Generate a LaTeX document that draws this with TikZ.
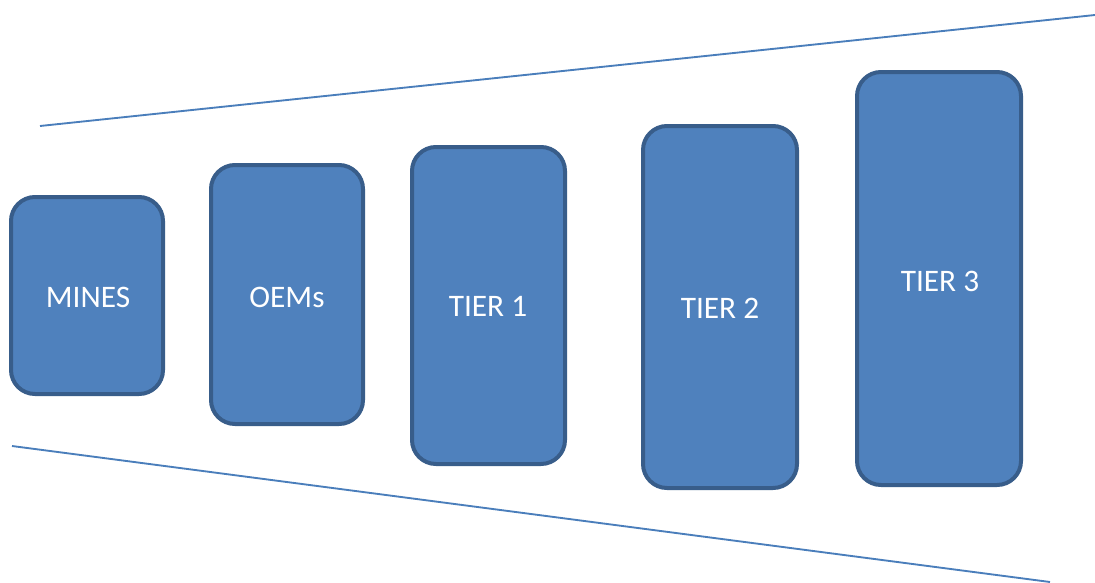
\documentclass[tikz,border=0pt]{standalone}
\usepackage{fontspec}
\setmainfont{Carlito}
\definecolor{boxfill}{HTML}{4F81BD}
\definecolor{boxline}{HTML}{385D8A}
\definecolor{funnel}{HTML}{4A7EBB}
\begin{document}
\begin{tikzpicture}[x=0.75pt,y=-0.75pt,
  tierbox/.style={draw=boxline,fill=boxfill,line width=3pt,rounded corners=18pt},
  tierlabel/.style={text=white,font=\fontsize{23.5}{28}\selectfont,inner sep=0pt},
  funnelline/.style={draw=funnel,line width=1.4pt}]
\useasboundingbox (0,0) rectangle (1095,582);
\coordinate (tl) at (40,126);
\coordinate (tr) at (1095,15);
\coordinate (bl) at (12,446);
\coordinate (br) at (1050,582);
\draw[funnelline] (tl) -- (tr);
\draw[funnelline] (bl) -- (br);
\draw[tierbox] (11,197) rectangle (163,394);
\draw[tierbox] (211,165) rectangle (363,424);
\draw[tierbox] (412,147) rectangle (565,464);
\draw[tierbox] (643,126) rectangle (797,488);
\draw[tierbox] (857,72) rectangle (1021,485);
\node[tierlabel] (mines) at (88,297) {MINES};
\node[tierlabel] (oems) at (287,297) {OEMs};
\node[tierlabel] (t1) at (488,306) {TIER 1};
\node[tierlabel] (t2) at (720,308) {TIER 2};
\node[tierlabel] (t3) at (940,281) {TIER 3};
\end{tikzpicture}
\end{document}
